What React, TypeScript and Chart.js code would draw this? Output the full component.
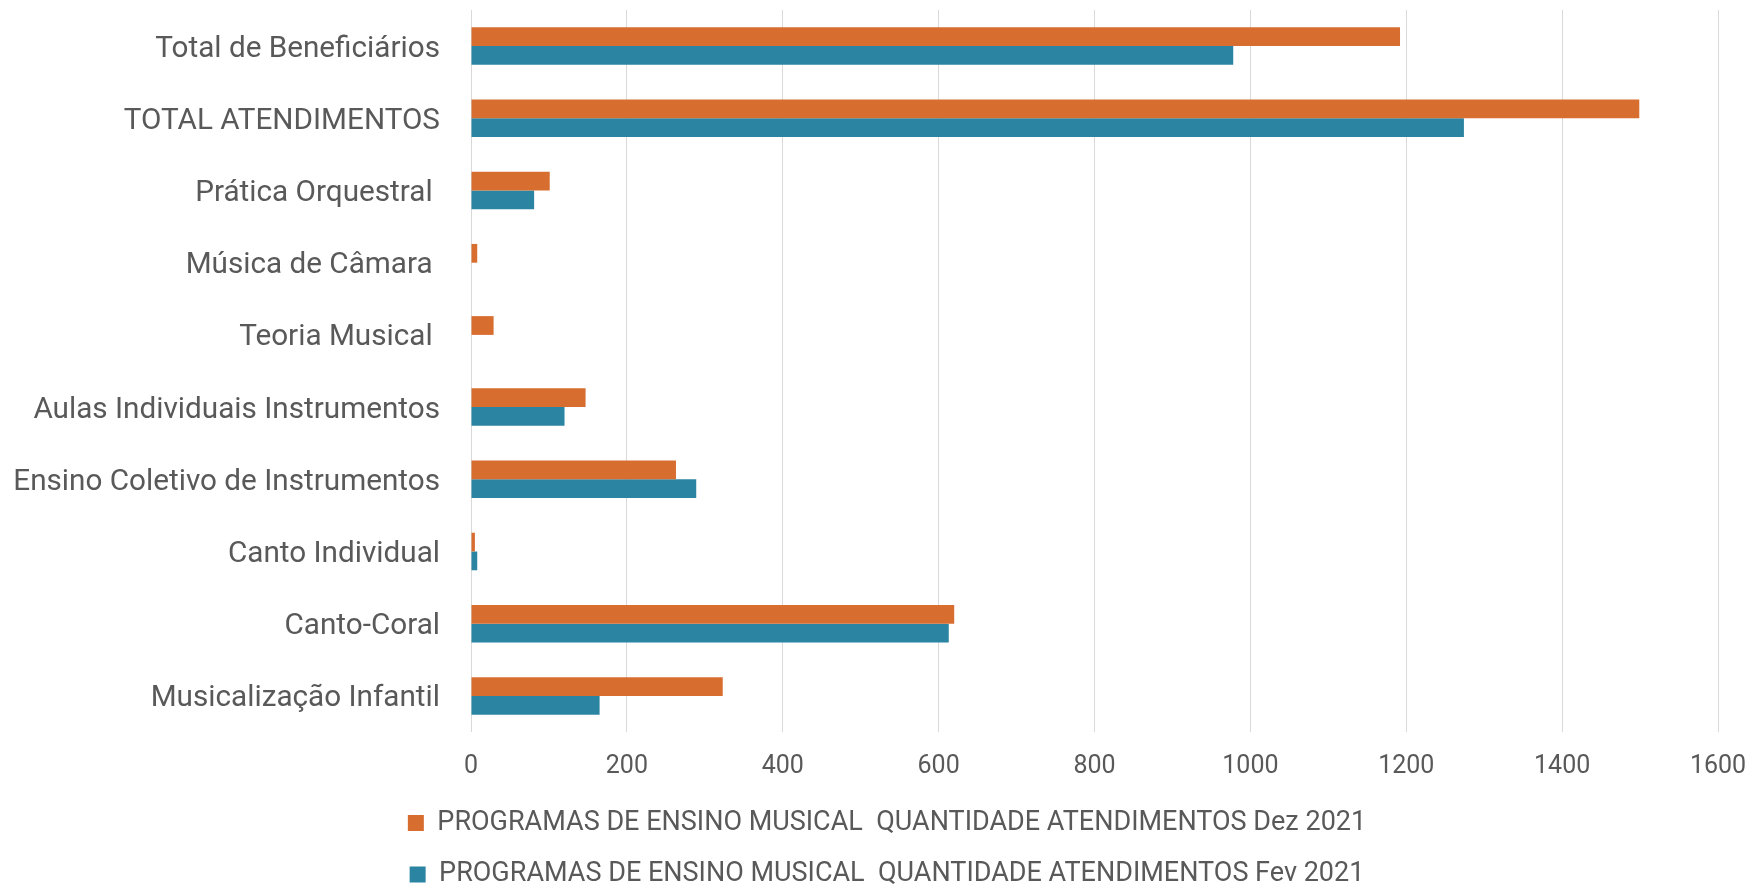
import React, { useEffect, useRef } from "react";
import { Chart, registerables } from "chart.js";

Chart.register(...registerables);

const categories = [
  "Total de Beneficiários",
  "TOTAL ATENDIMENTOS",
  "Prática Orquestral ",
  "Música de Câmara ",
  "Teoria Musical ",
  "Aulas Individuais Instrumentos",
  "Ensino Coletivo de Instrumentos",
  "Canto Individual",
  "Canto-Coral",
  "Musicalização Infantil",
];

const dez2021 = [1192, 1499, 101, 8, 29, 147, 263, 5, 620, 323];
const fev2021 = [978, 1274, 81, 0, 0, 120, 289, 8, 613, 165];

const seriesNames = [
  "PROGRAMAS DE ENSINO MUSICAL  QUANTIDADE ATENDIMENTOS Dez 2021",
  "PROGRAMAS DE ENSINO MUSICAL  QUANTIDADE ATENDIMENTOS Fev 2021",
];

const xTicks = [0, 200, 400, 600, 800, 1000, 1200, 1400, 1600];

const ORANGE = "#D86D30";
const TEAL = "#2B84A1";
const TEXT = "#595959";

const legendShift = {
  id: "legendShift",
  afterLayout(chart: any) {
    const l = chart.legend;
    if (l) {
      l.left += 28;
      l.right += 28;
      l.top += 2;
      l.bottom += 2;
    }
  },
};

export default function App() {
  const ref = useRef<HTMLCanvasElement | null>(null);

  useEffect(() => {
    if (!ref.current) return;
    const chart = new Chart(ref.current, {
      type: "bar",
      data: {
        labels: categories,
        datasets: [
          {
            label: seriesNames[0],
            data: dez2021,
            backgroundColor: ORANGE,
            borderWidth: 0,
            categoryPercentage: 0.52,
            barPercentage: 1,
          },
          {
            label: seriesNames[1],
            data: fev2021,
            backgroundColor: TEAL,
            borderWidth: 0,
            categoryPercentage: 0.52,
            barPercentage: 1,
          },
        ],
      },
      plugins: [legendShift],
      options: {
        indexAxis: "y",
        animation: false,
        responsive: true,
        maintainAspectRatio: false,
        layout: {
          padding: { left: 0, right: 29, top: 10, bottom: -10 },
        },
        scales: {
          x: {
            min: xTicks[0],
            max: xTicks[xTicks.length - 1],
            afterBuildTicks: (scale: any) => {
              scale.ticks = xTicks.map((v) => ({ value: v }));
            },
            afterFit: (scale: any) => {
              scale.height = 51;
              scale.paddingRight = 0;
              scale.paddingLeft = 0;
            },
            grid: {
              color: "#D9D9D9",
              lineWidth: 1,
              drawTicks: false,
            },
            border: { display: false },
            ticks: {
              color: TEXT,
              padding: 20,
              font: { family: "Roboto", size: 25 },
              callback: (v: any) => String(v),
            },
          },
          y: {
            afterFit: (scale: any) => {
              scale.width = 471;
            },
            grid: { display: false, drawTicks: true, tickLength: 31 },
            border: { display: false },
            ticks: {
              color: TEXT,
              padding: 0,
              labelOffset: 3,
              autoSkip: false,
              font: { family: "Roboto", size: 29.7, lineHeight: 0.6 },
            },
          },
        },
        plugins: {
          legend: {
            position: "bottom",
            labels: {
              color: TEXT,
              boxWidth: 16,
              boxHeight: 16,
              padding: 24.5,
              font: { family: "Roboto", size: 27 },
            },
          },
          tooltip: { enabled: false },
        },
      },
    });
    return () => chart.destroy();
  }, []);

  return (
    <div
      style={{
        position: "absolute",
        left: 0,
        top: 0,
        width: 1747,
        height: 886,
        background: "#fff",
      }}
    >
      <canvas ref={ref} />
    </div>
  );
}
